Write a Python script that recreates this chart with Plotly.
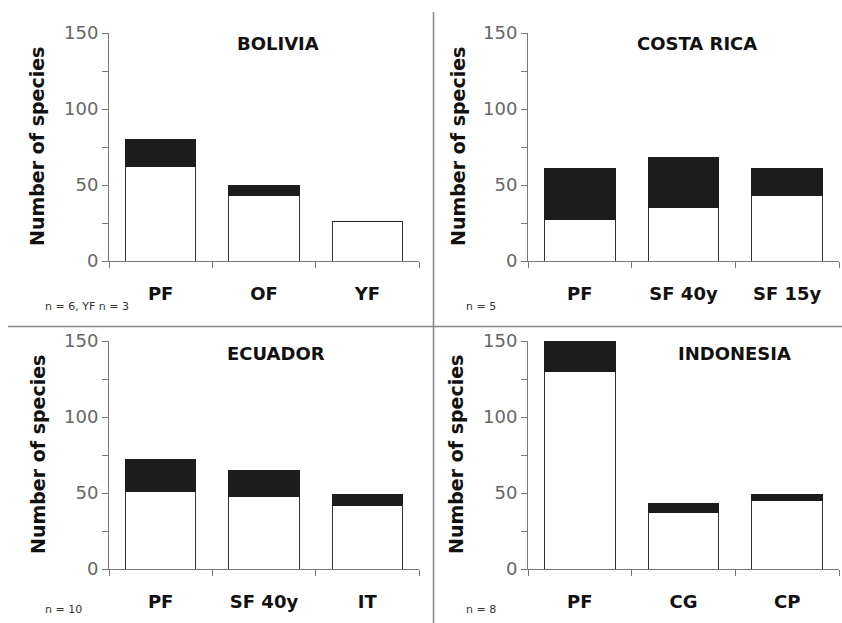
import plotly.graph_objects as go

# ---------------- data ----------------
countries = ["BOLIVIA", "COSTA RICA", "ECUADOR", "INDONESIA"]
bolivia_cats = ["PF", "OF", "YF"]
bolivia_total = [80, 50, 26]
bolivia_white = [62, 43, 26]

costa_cats = ["PF", "SF 40y", "SF 15y"]
costa_total = [61, 68, 61]
costa_white = [27, 35, 43]

ecuador_cats = ["PF", "SF 40y", "IT"]
ecuador_total = [72, 65, 49]
ecuador_white = [51, 48, 42]

indonesia_cats = ["PF", "CG", "CP"]
indonesia_total = [151, 43, 49]
indonesia_white = [130, 37, 45]

n_notes = ["n = 6, YF n = 3", "n = 5", "n = 10", "n = 8"]
y_tickvals = [0, 25, 50, 75, 100, 125, 150]
y_ticktext = ["0", "", "50", "", "100", "", "150"]

panels = [
    (bolivia_cats, bolivia_total, bolivia_white),
    (costa_cats, costa_total, costa_white),
    (ecuador_cats, ecuador_total, ecuador_white),
    (indonesia_cats, indonesia_total, indonesia_white),
]

W, H = 842, 623
FONT = "DejaVu Sans, Arial, sans-serif"

# panel geometry in pixels: (x_left, x_right, y_top, y_bottom)
geo = [
    (109, 419, 33, 261),
    (528, 839, 33, 261),
    (109, 419, 341, 569),
    (528, 839, 341, 569),
]
title_pos = [(278, 43), (697, 43), (276, 353), (734, 353)]
ytitle_x = [37, 458, 38, 456]
note_pos = [(43, 306), (464, 306), (43, 609), (464, 609)]

fig = go.Figure()
layout = dict(
    template="none",
    width=W, height=H, margin=dict(l=0, r=0, t=0, b=0, pad=0, autoexpand=False),
    paper_bgcolor="white", plot_bgcolor="white",
    barmode="stack", bargap=0.32, showlegend=False,
    font=dict(family=FONT, color="#222"),
)
annotations = []
for i, ((cats, total, white), (xl, xr, yt, yb)) in enumerate(zip(panels, geo)):
    k = "" if i == 0 else str(i + 1)
    black = [t - w for t, w in zip(total, white)]
    fig.add_trace(go.Bar(x=cats, y=white, xaxis="x" + k, yaxis="y" + k,
                         marker=dict(color="white", line=dict(color="#333", width=1)),
                         cliponaxis=False))
    fig.add_trace(go.Bar(x=cats, y=black, xaxis="x" + k, yaxis="y" + k,
                         marker=dict(color="#1c1c1c", line=dict(color="#1c1c1c", width=1)),
                         cliponaxis=False))
    layout["xaxis" + k] = dict(
        domain=[xl / W, xr / W], anchor="y" + k, type="category", automargin=False,
        showline=True, linecolor="#777", linewidth=1,
        ticks="outside", tickson="boundaries", ticklen=6, tickcolor="#777",
        showgrid=False, zeroline=False,
        tickfont=dict(family=FONT, size=18, color="#111", weight="bold"),
        ticklabelstandoff=16,
    )
    layout["yaxis" + k] = dict(
        domain=[1 - yb / H, 1 - yt / H], anchor="x" + k, range=[0, 150], automargin=False,
        showline=True, linecolor="#777", linewidth=1,
        ticks="outside", ticklen=6, tickcolor="#777",
        tickvals=y_tickvals, ticktext=y_ticktext,
        showgrid=False, zeroline=False,
        tickfont=dict(family=FONT, size=18, color="#666"),
    )
    tx, ty = title_pos[i]
    annotations.append(dict(text="<b>%s</b>" % countries[i], x=tx / W, y=1 - ty / H,
                            xref="paper", yref="paper", showarrow=False,
                            xanchor="center", yanchor="middle",
                            font=dict(family=FONT, size=18, color="#111")))
    annotations.append(dict(text="<b>Number of species</b>", x=ytitle_x[i] / W,
                            y=1 - (yt + yb) / 2 / H, xref="paper", yref="paper",
                            showarrow=False, textangle=-90,
                            xanchor="center", yanchor="middle",
                            font=dict(family=FONT, size=19, color="#111")))
    nx, ny = note_pos[i]
    annotations.append(dict(text=n_notes[i], x=nx / W, y=1 - ny / H,
                            xref="paper", yref="paper", showarrow=False,
                            xanchor="left", yanchor="middle",
                            font=dict(family=FONT, size=11, color="#333")))

layout["annotations"] = annotations
layout["shapes"] = [
    dict(type="line", xref="paper", yref="paper", x0=433.5 / W, x1=433.5 / W,
         y0=0, y1=1 - 12 / H, line=dict(color="#888", width=1.5)),
    dict(type="line", xref="paper", yref="paper", x0=8 / W, x1=1,
         y0=1 - 326.5 / H, y1=1 - 326.5 / H, line=dict(color="#888", width=1.5)),
]
fig.update_layout(**layout)
fig.write_html("out.html", config={"displayModeBar": False},
               post_script="document.body.style.margin='0';")
